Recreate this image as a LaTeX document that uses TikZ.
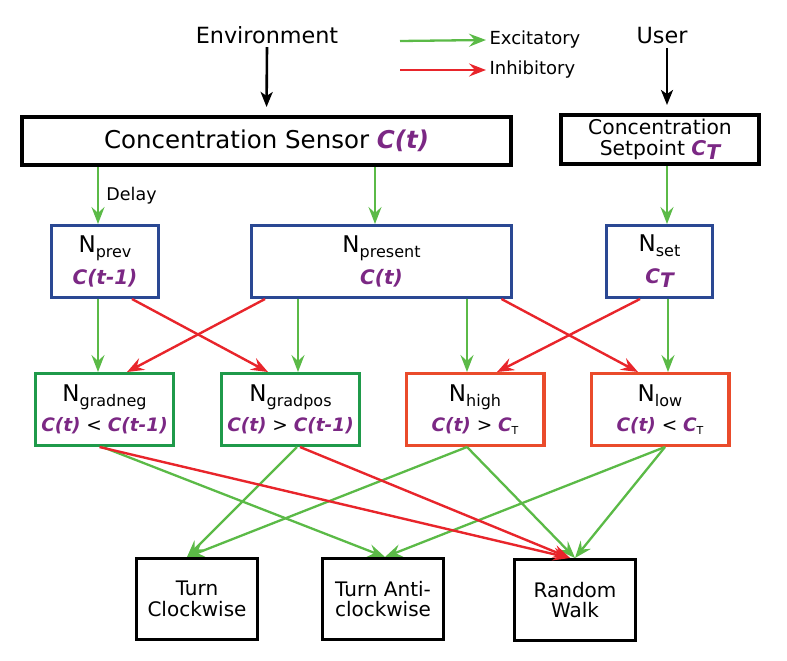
\documentclass[tikz,border=0pt]{standalone}
\usepackage{fontspec}
\setmainfont{DejaVu Sans}
\usetikzlibrary{arrows.meta}

\definecolor{excgreen}{HTML}{5BBA47}
\definecolor{inhred}{HTML}{E8252B}
\definecolor{inblue}{HTML}{2A4893}
\definecolor{gradgreen}{HTML}{1F9A4A}
\definecolor{levelred}{HTML}{EA4B2B}
\definecolor{cpurple}{HTML}{7B2884}

\newcommand{\Nsub}[1]{N\raisebox{-5pt}{\fontsize{16}{16}\selectfont #1}}
\newcommand{\cv}[1]{\textcolor{cpurple}{\bfseries\itshape #1}}
\newcommand{\cT}{\cv{C}\raisebox{-3pt}{\fontsize{11}{11}\selectfont T}}

\begin{document}
\begin{tikzpicture}[x=1pt, y=-1pt,
  blk/.style={draw=black, line width=4pt, inner sep=0pt, align=center},
  inbox/.style={draw=inblue, line width=3pt, inner sep=0pt, align=center,
    minimum height=72pt, font=\fontsize{23}{32}\selectfont},
  gradbox/.style={draw=gradgreen, line width=3.3pt, inner sep=0pt, align=center,
    minimum width=137.7pt, minimum height=71.7pt, font=\fontsize{23}{30}\selectfont},
  levelbox/.style={gradbox, draw=levelred},
  outbox/.style={blk, line width=3.3pt, minimum width=120.7pt, minimum height=80.7pt,
    font=\fontsize{20}{20.5}\selectfont},
  exc/.style={draw=excgreen, line width=2.3pt, -{Stealth[length=17pt,width=13pt,inset=6pt]}},
  inh/.style={draw=inhred, line width=2.4pt, -{Stealth[length=17pt,width=13pt,inset=6pt]}},
  ctrl/.style={draw=black, line width=2.6pt, -{Stealth[length=15pt,width=12pt,inset=4pt]}}]
\useasboundingbox (0,0) rectangle (787,661);
\path (267,35) node [font=\fontsize{22.3}{24}\selectfont] (env) {Environment}
      (662,36) node [font=\fontsize{22.3}{24}\selectfont] (user) {User}
      (400,41) coordinate (excstart)
      (486,40) node [anchor=west, font=\fontsize{18}{20}\selectfont] (exc) {Excitatory}
      (400,70) coordinate (inhstart)
      (486,70) node [anchor=west, font=\fontsize{18}{20}\selectfont] (inh) {Inhibitory}
      (266.5,141) node [blk, minimum width=489pt, minimum height=48pt,
        font=\fontsize{24.5}{26}\selectfont] (sensor) {Concentration Sensor \cv{C(t)}}
      (660,139.5) node [blk, minimum width=198pt, minimum height=49pt,
        font=\fontsize{20.3}{21}\selectfont] (setpoint) {Concentration\\Setpoint \cv{C\raisebox{-4pt}{T}}}
      (105,261.5) node [inbox, minimum width=107pt] (prev)
        {\Nsub{prev}\\\fontsize{20}{32}\selectfont\cv{C(t-1)}}
      (381.5,261.5) node [inbox, minimum width=260pt] (present)
        {\Nsub{present}\\\fontsize{20}{32}\selectfont\cv{C(t)}}
      (659.5,261.5) node [inbox, minimum width=106pt] (set)
        {\Nsub{set}\\\fontsize{20}{32}\selectfont\cv{C\raisebox{-4pt}{T}}}
      (104.5,409.5) node [gradbox] (gradneg)
        {\Nsub{gradneg}\\\fontsize{18.5}{30}\selectfont\cv{C(t)} < \cv{C(t-1)}}
      (290.5,409.5) node [gradbox] (gradpos)
        {\Nsub{gradpos}\\\fontsize{18.5}{30}\selectfont\cv{C(t)} > \cv{C(t-1)}}
      (475,409.5) node [levelbox] (high)
        {\Nsub{high}\\\fontsize{18.5}{30}\selectfont\cv{C(t)} > \cT}
      (660,409.5) node [levelbox] (low)
        {\Nsub{low}\\\fontsize{18.5}{30}\selectfont\cv{C(t)} < \cT}
      (197,599) node [outbox] (clock) {Turn\\Clockwise}
      (383,599) node [outbox] (anti) {Turn Anti-\\clockwise}
      (575,600) node [outbox] (walk) {Random\\Walk}
      ;
% inputs and legend
\coordinate (su) at ([xshift=7pt]setpoint.north);
\draw [ctrl, shorten >=8pt] (env.south) -- (sensor.north);
\draw [ctrl, shorten >=8pt] (su |- user.south) -- (su);
\draw [exc] (excstart) -- (exc.west);
\draw [inh] (inhstart) -- (inh.west);
% sensors to input neurons
\coordinate (dp) at ([xshift=-7pt]prev.north);
\coordinate (dq) at ([xshift=-6.5pt]present.north);
\coordinate (ds) at ([xshift=7.5pt]set.north);
\draw [exc] (dp |- sensor.south) -- node [right, xshift=4pt, font=\fontsize{17.5}{20}\selectfont] (delay) {Delay} (dp);
\draw [exc] (dq |- sensor.south) -- (dq);
\draw [exc] (ds |- setpoint.south) -- (ds);
% input neurons to comparison neurons
\coordinate (gn) at ([xshift=-6.5pt]gradneg.north);
\coordinate (gp) at ([xshift=7.5pt]gradpos.north);
\coordinate (gh) at ([xshift=-8pt]high.north);
\coordinate (gl) at ([xshift=8pt]low.north);
\draw [exc] (gn |- prev.south) -- (gn);
\draw [exc] (gp |- present.south) -- (gp);
\draw [exc] (gh |- present.south) -- (gh);
\draw [exc] (gl |- set.south) -- (gl);
\draw [inh] ([xshift=27pt]prev.south) -- ([xshift=-22.5pt]gradpos.north);
\draw [inh] ([xshift=-116.5pt]present.south) -- ([xshift=22.5pt]gradneg.north);
\draw [inh] ([xshift=120pt]present.south) -- ([xshift=-22pt]low.north);
\draw [inh] ([xshift=-19.5pt]set.south) -- ([xshift=22pt]high.north);
% comparison neurons to motor outputs
\draw [exc] ([xshift=-2pt]gradneg.south) -- ([xshift=2pt]anti.north);
\draw [exc] ([xshift=6.5pt]gradpos.south) -- ([xshift=-10pt]clock.north);
\draw [exc] ([xshift=-8pt]high.south) -- ([xshift=-10pt]clock.north);
\draw [exc] ([xshift=-8pt]high.south) -- (walk.north);
\draw [exc] ([xshift=5pt]low.south) -- ([xshift=2pt]anti.north);
\draw [exc] ([xshift=5pt]low.south) -- (walk.north);
\draw [inh] ([xshift=-5pt]gradneg.south) -- ([xshift=-5pt]walk.north);
\draw [inh] ([xshift=9.5pt]gradpos.south) -- ([xshift=-5pt]walk.north);
\end{tikzpicture}
\end{document}
